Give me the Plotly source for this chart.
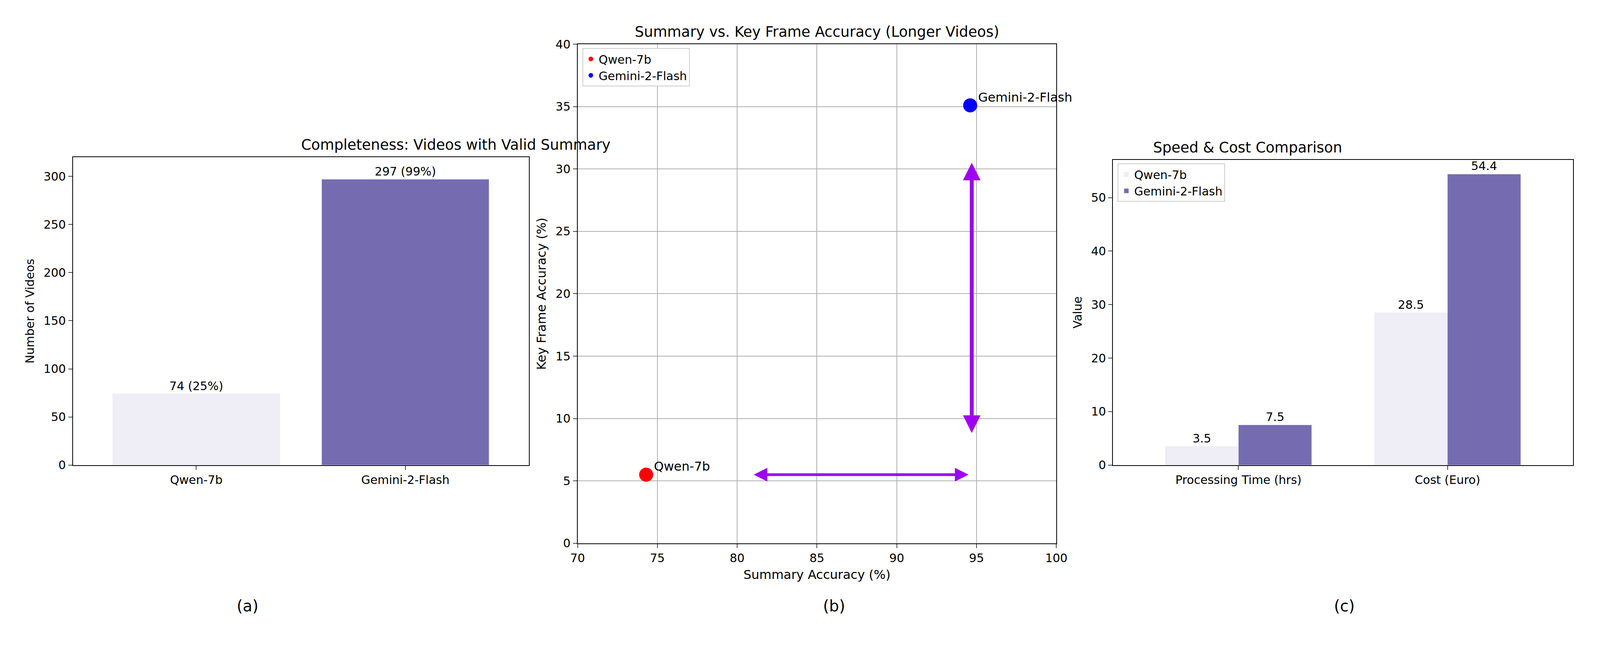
import plotly.graph_objects as go

models = ["Qwen-7b", "Gemini-2-Flash"]
valid_counts = [74, 297]
valid_labels = ["74 (25%)", "297 (99%)"]

summary_acc = [74.3, 94.6]
keyframe_acc = [5.5, 35.1]
dot_colors = ["#ff0000", "#0000ff"]

metrics = ["Processing Time (hrs)", "Cost (Euro)"]
qwen_vals = [3.5, 28.5]
gemini_vals = [7.5, 54.4]

light = "#efedf5"
purple = "#756bb1"
arrow_col = "#a000f0"
F = "DejaVu Sans"

fig = go.Figure()

# (a) completeness
fig.add_trace(go.Bar(x=models, y=valid_counts, marker_color=[light, purple], width=0.8,
                     text=valid_labels, textposition="outside", textfont=dict(size=30, color="black"),
                     cliponaxis=False, showlegend=False, xaxis="x", yaxis="y"))

# (b) scatter
for m, sx, ky, c in zip(models, summary_acc, keyframe_acc, dot_colors):
    fig.add_trace(go.Scatter(x=[sx], y=[ky], mode="markers", name=m,
                             marker=dict(color=c, size=36), legend="legend",
                             xaxis="x2", yaxis="y2"))
    fig.add_annotation(x=sx, y=ky, xref="x2", yref="y2", text=m, showarrow=False,
                       xanchor="left", yanchor="bottom", xshift=18, yshift=0,
                       font=dict(size=32, color="black"))

# (c) speed & cost
fig.add_trace(go.Bar(x=metrics, y=qwen_vals, name="Qwen-7b", marker_color=light,
                     text=[f"{v}" for v in qwen_vals], textposition="outside",
                     textfont=dict(size=30, color="black"), cliponaxis=False,
                     legend="legend2", xaxis="x3", yaxis="y3"))
fig.add_trace(go.Bar(x=metrics, y=gemini_vals, name="Gemini-2-Flash", marker_color=purple,
                     text=[f"{v}" for v in gemini_vals], textposition="outside",
                     textfont=dict(size=30, color="black"), cliponaxis=False,
                     legend="legend2", xaxis="x3", yaxis="y3"))

# arrows in (b)
fig.add_annotation(x=94.5, y=5.5, ax=81, ay=5.5, xref="x2", yref="y2", axref="x2", ayref="y2",
                   text="", showarrow=True, arrowhead=2, startarrowhead=2, arrowside="end+start",
                   arrowsize=1, arrowwidth=7, arrowcolor=arrow_col, startarrowsize=1)
fig.add_annotation(x=94.7, y=30.5, ax=94.7, ay=8.8, xref="x2", yref="y2", axref="x2", ayref="y2",
                   text="", showarrow=True, arrowhead=2, startarrowhead=2, arrowside="end+start",
                   arrowsize=0.9, arrowwidth=10, arrowcolor=arrow_col, startarrowsize=0.9)

axis_common = dict(showline=True, linecolor="black", linewidth=2, mirror=True, ticks="outside",
                   ticklen=10, tickwidth=2, tickfont=dict(size=30, color="black"), zeroline=False)

for lbl, x in [("(a)", 0.143), ("(b)", 0.523), ("(c)", 0.854)]:
    fig.add_annotation(text=lbl, x=x, y=0.04, xref="paper", yref="paper", showarrow=False,
                       font=dict(size=40, color="black"))

titles = [("Completeness: Videos with Valid Summary", 0.184, 0.767),
          ("Summary vs. Key Frame Accuracy (Longer Videos)", 0.512, 0.946),
          ("Speed & Cost Comparison", 0.846, 0.763)]
for t, x, y in titles:
    fig.add_annotation(text=t, x=x, y=y, xref="paper", yref="paper", yanchor="bottom",
                       showarrow=False, yshift=8, font=dict(size=37, color="black"))

fig.update_layout(
    autosize=True, paper_bgcolor="white", plot_bgcolor="white",
    font=dict(family=F, color="black"), margin=dict(l=0, r=0, t=0, b=0),
    bargap=0.3,
    xaxis=dict(domain=[0.0396, 0.329], anchor="y", range=[-0.59, 1.59], showgrid=False, **axis_common),
    yaxis=dict(domain=[0.279, 0.767], anchor="x", range=[0, 320], dtick=50, showgrid=False,
               title=dict(text="Number of Videos", font=dict(size=30)), **axis_common),
    xaxis2=dict(domain=[0.360, 0.664], anchor="y2", range=[70, 100], dtick=5,
                showgrid=True, gridcolor="#b0b0b0", gridwidth=2,
                title=dict(text="Summary Accuracy (%)", font=dict(size=32)), **axis_common),
    yaxis2=dict(domain=[0.155, 0.946], anchor="x2", range=[0, 40], dtick=5,
                showgrid=True, gridcolor="#b0b0b0", gridwidth=2,
                title=dict(text="Key Frame Accuracy (%)", font=dict(size=32)), **axis_common),
    xaxis3=dict(domain=[0.700, 0.992], anchor="y3", range=[-0.6, 1.6], showgrid=False, **axis_common),
    yaxis3=dict(domain=[0.279, 0.763], anchor="x3", range=[0, 57.1], dtick=10, showgrid=False,
                title=dict(text="Value", font=dict(size=30)), **axis_common),
    legend=dict(x=0.363, y=0.94, xanchor="left", yanchor="top", bgcolor="white",
                bordercolor="#cccccc", borderwidth=2, font=dict(size=30), itemsizing="constant"),
    legend2=dict(x=0.703, y=0.757, xanchor="left", yanchor="top", bgcolor="white",
                 bordercolor="#cccccc", borderwidth=2, font=dict(size=30)),
)

fig.write_html("out.html", default_width="100%", default_height="100vh")
